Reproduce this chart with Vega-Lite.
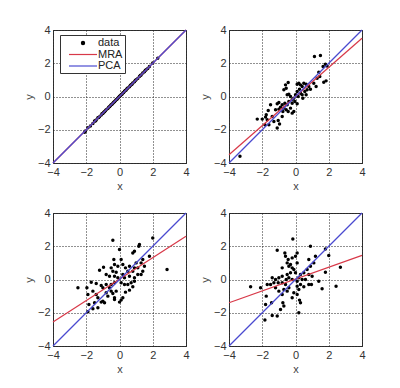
{
  "$schema": "https://vega.github.io/schema/vega-lite/v6.json",
  "padding": {"left": 22, "top": 23, "right": 5, "bottom": 5},
  "datasets": {
    "pts": [
      {"panel":1,"series":"data","x":-2.1,"y":-2.15},{"panel":1,"series":"data","x":-2.05,"y":-2.08},{"panel":1,"series":"data","x":-1.9,"y":-1.88},{"panel":1,"series":"data","x":-1.75,"y":-1.77},{"panel":1,"series":"data","x":-1.6,"y":-1.62},{"panel":1,"series":"data","x":-1.5,"y":-1.48},{"panel":1,"series":"data","x":-1.45,"y":-1.47},{"panel":1,"series":"data","x":-1.4,"y":-1.42},{"panel":1,"series":"data","x":-1.3,"y":-1.28},{"panel":1,"series":"data","x":-1.25,"y":-1.27},{"panel":1,"series":"data","x":-1.2,"y":-1.21},{"panel":1,"series":"data","x":-1.1,"y":-1.12},{"panel":1,"series":"data","x":-1.05,"y":-1.03},{"panel":1,"series":"data","x":-1.0,"y":-1.02},{"panel":1,"series":"data","x":-0.95,"y":-0.94},{"panel":1,"series":"data","x":-0.9,"y":-0.92},{"panel":1,"series":"data","x":-0.85,"y":-0.86},{"panel":1,"series":"data","x":-0.8,"y":-0.79},{"panel":1,"series":"data","x":-0.7,"y":-0.72},{"panel":1,"series":"data","x":-0.65,"y":-0.64},{"panel":1,"series":"data","x":-0.6,"y":-0.61},{"panel":1,"series":"data","x":-0.55,"y":-0.56},{"panel":1,"series":"data","x":-0.5,"y":-0.49},{"panel":1,"series":"data","x":-0.45,"y":-0.47},{"panel":1,"series":"data","x":-0.4,"y":-0.41},{"panel":1,"series":"data","x":-0.35,"y":-0.34},{"panel":1,"series":"data","x":-0.3,"y":-0.31},{"panel":1,"series":"data","x":-0.25,"y":-0.26},{"panel":1,"series":"data","x":-0.2,"y":-0.19},{"panel":1,"series":"data","x":-0.15,"y":-0.16},{"panel":1,"series":"data","x":-0.1,"y":-0.11},{"panel":1,"series":"data","x":-0.05,"y":-0.04},{"panel":1,"series":"data","x":0,"y":0.01},{"panel":1,"series":"data","x":0.05,"y":0.04},{"panel":1,"series":"data","x":0.1,"y":0.11},{"panel":1,"series":"data","x":0.15,"y":0.14},{"panel":1,"series":"data","x":0.2,"y":0.21},{"panel":1,"series":"data","x":0.25,"y":0.24},{"panel":1,"series":"data","x":0.3,"y":0.31},{"panel":1,"series":"data","x":0.35,"y":0.36},{"panel":1,"series":"data","x":0.4,"y":0.39},{"panel":1,"series":"data","x":0.45,"y":0.46},{"panel":1,"series":"data","x":0.5,"y":0.51},{"panel":1,"series":"data","x":0.6,"y":0.59},{"panel":1,"series":"data","x":0.65,"y":0.66},{"panel":1,"series":"data","x":0.7,"y":0.71},{"panel":1,"series":"data","x":0.75,"y":0.74},{"panel":1,"series":"data","x":0.8,"y":0.81},{"panel":1,"series":"data","x":0.9,"y":0.89},{"panel":1,"series":"data","x":0.95,"y":0.96},{"panel":1,"series":"data","x":1.0,"y":1.01},{"panel":1,"series":"data","x":1.1,"y":1.09},{"panel":1,"series":"data","x":1.2,"y":1.21},{"panel":1,"series":"data","x":1.25,"y":1.26},{"panel":1,"series":"data","x":1.3,"y":1.29},{"panel":1,"series":"data","x":1.4,"y":1.41},{"panel":1,"series":"data","x":1.5,"y":1.49},{"panel":1,"series":"data","x":1.55,"y":1.56},{"panel":1,"series":"data","x":1.6,"y":1.61},{"panel":1,"series":"data","x":1.7,"y":1.69},{"panel":1,"series":"data","x":1.8,"y":1.81},{"panel":1,"series":"data","x":2.0,"y":2.02},{"panel":1,"series":"data","x":2.3,"y":2.3},

      {"panel":2,"series":"data","x":-3.34,"y":-3.6},{"panel":2,"series":"data","x":1.14,"y":2.4},{"panel":2,"series":"data","x":1.5,"y":2.46},{"panel":2,"series":"data","x":1.8,"y":1.94},{"panel":2,"series":"data","x":1.66,"y":1.8},{"panel":2,"series":"data","x":1.9,"y":1.84},{"panel":2,"series":"data","x":1.84,"y":0.94},{"panel":2,"series":"data","x":1.7,"y":0.86},{"panel":2,"series":"data","x":1.4,"y":1.46},{"panel":2,"series":"data","x":1.46,"y":1.2},{"panel":2,"series":"data","x":1.3,"y":1.1},{"panel":2,"series":"data","x":1.24,"y":0.6},{"panel":2,"series":"data","x":1.1,"y":0.8},{"panel":2,"series":"data","x":-0.44,"y":0.84},{"panel":2,"series":"data","x":-0.6,"y":0.7},{"panel":2,"series":"data","x":-0.7,"y":0.4},{"panel":2,"series":"data","x":-0.56,"y":0.5},{"panel":2,"series":"data","x":0.2,"y":0.8},{"panel":2,"series":"data","x":0.3,"y":0.7},{"panel":2,"series":"data","x":0.1,"y":0.74},{"panel":2,"series":"data","x":0.4,"y":0.6},{"panel":2,"series":"data","x":0.5,"y":0.8},{"panel":2,"series":"data","x":0.64,"y":0.74},{"panel":2,"series":"data","x":0.8,"y":0.6},{"panel":2,"series":"data","x":0.9,"y":0.44},{"panel":2,"series":"data","x":0.7,"y":0.4},{"panel":2,"series":"data","x":0.56,"y":0.3},{"panel":2,"series":"data","x":0.24,"y":0.44},{"panel":2,"series":"data","x":0.1,"y":0.3},{"panel":2,"series":"data","x":0.3,"y":0.2},{"panel":2,"series":"data","x":0.4,"y":0.1},{"panel":2,"series":"data","x":0.64,"y":0.1},{"panel":2,"series":"data","x":0.44,"y":-0.1},{"panel":2,"series":"data","x":0.16,"y":0},{"panel":2,"series":"data","x":0,"y":0.1},{"panel":2,"series":"data","x":-0.1,"y":-0.1},{"panel":2,"series":"data","x":-0.2,"y":-0.2},{"panel":2,"series":"data","x":-0.3,"y":0},{"panel":2,"series":"data","x":-0.4,"y":0.14},{"panel":2,"series":"data","x":-0.5,"y":0.1},{"panel":2,"series":"data","x":-0.2,"y":-0.4},{"panel":2,"series":"data","x":-0.04,"y":-0.3},{"panel":2,"series":"data","x":0.1,"y":-0.44},{"panel":2,"series":"data","x":-0.4,"y":-0.3},{"panel":2,"series":"data","x":-0.5,"y":-0.5},{"panel":2,"series":"data","x":-0.64,"y":-0.4},{"panel":2,"series":"data","x":-0.8,"y":-0.5},{"panel":2,"series":"data","x":-1.0,"y":-0.36},{"panel":2,"series":"data","x":-1.1,"y":-0.44},{"panel":2,"series":"data","x":-0.9,"y":-0.64},{"panel":2,"series":"data","x":-0.7,"y":-0.7},{"panel":2,"series":"data","x":-0.56,"y":-0.8},{"panel":2,"series":"data","x":-0.3,"y":-0.7},{"panel":2,"series":"data","x":-0.44,"y":-0.9},{"panel":2,"series":"data","x":-0.2,"y":-1.0},{"panel":2,"series":"data","x":-0.1,"y":-0.9},{"panel":2,"series":"data","x":-0.76,"y":-0.9},{"panel":2,"series":"data","x":-1.0,"y":-0.76},{"panel":2,"series":"data","x":-1.2,"y":-0.8},{"panel":2,"series":"data","x":-1.5,"y":-0.5},{"panel":2,"series":"data","x":-1.64,"y":-0.84},{"panel":2,"series":"data","x":-1.76,"y":-1.1},{"panel":2,"series":"data","x":-1.8,"y":-1.24},{"panel":2,"series":"data","x":-2.0,"y":-1.36},{"panel":2,"series":"data","x":-2.3,"y":-1.36},{"panel":2,"series":"data","x":-1.7,"y":-1.4},{"panel":2,"series":"data","x":-1.84,"y":-1.7},{"panel":2,"series":"data","x":-1.6,"y":-1.7},{"panel":2,"series":"data","x":-1.3,"y":-1.5},{"panel":2,"series":"data","x":-1.04,"y":-1.44},{"panel":2,"series":"data","x":-0.96,"y":-1.66},{"panel":2,"series":"data","x":-1.1,"y":-1.9},{"panel":2,"series":"data","x":-1.4,"y":-1.2},{"panel":2,"series":"data","x":-0.8,"y":-1.2},

      {"panel":3,"series":"data","x":-2.5,"y":-0.5},{"panel":3,"series":"data","x":-0.4,"y":2.36},{"panel":3,"series":"data","x":2.0,"y":2.5},{"panel":3,"series":"data","x":1.2,"y":2.1},{"panel":3,"series":"data","x":1.16,"y":2.0},{"panel":3,"series":"data","x":2.86,"y":0.6},{"panel":3,"series":"data","x":1.4,"y":1.2},{"panel":3,"series":"data","x":0.9,"y":1.7},{"panel":3,"series":"data","x":0.8,"y":1.6},{"panel":3,"series":"data","x":1.8,"y":1.4},{"panel":3,"series":"data","x":1.5,"y":0.8},{"panel":3,"series":"data","x":1.3,"y":1.0},{"panel":3,"series":"data","x":1.0,"y":1.0},{"panel":3,"series":"data","x":1.1,"y":0.7},{"panel":3,"series":"data","x":1.4,"y":0.5},{"panel":3,"series":"data","x":1.3,"y":0.3},{"panel":3,"series":"data","x":0.9,"y":0.7},{"panel":3,"series":"data","x":0.8,"y":0.5},{"panel":3,"series":"data","x":0.6,"y":0.8},{"panel":3,"series":"data","x":0.5,"y":0.5},{"panel":3,"series":"data","x":0.36,"y":0.7},{"panel":3,"series":"data","x":0.2,"y":0.9},{"panel":3,"series":"data","x":0.1,"y":1.2},{"panel":3,"series":"data","x":0,"y":1.8},{"panel":3,"series":"data","x":-0.34,"y":1.2},{"panel":3,"series":"data","x":-0.3,"y":0.9},{"panel":3,"series":"data","x":-0.1,"y":0.8},{"panel":3,"series":"data","x":-0.5,"y":0.7},{"panel":3,"series":"data","x":-0.4,"y":0.5},{"panel":3,"series":"data","x":-0.2,"y":0.44},{"panel":3,"series":"data","x":-0.96,"y":0.74},{"panel":3,"series":"data","x":-1.2,"y":0.56},{"panel":3,"series":"data","x":-0.8,"y":0.3},{"panel":3,"series":"data","x":-0.6,"y":0.2},{"panel":3,"series":"data","x":-0.3,"y":0.2},{"panel":3,"series":"data","x":-0.1,"y":0.1},{"panel":3,"series":"data","x":0.2,"y":0.3},{"panel":3,"series":"data","x":0.3,"y":0.1},{"panel":3,"series":"data","x":0.6,"y":0.2},{"panel":3,"series":"data","x":0.9,"y":0.1},{"panel":3,"series":"data","x":1.1,"y":0.3},{"panel":3,"series":"data","x":0.1,"y":-0.2},{"panel":3,"series":"data","x":0.3,"y":-0.3},{"panel":3,"series":"data","x":0.5,"y":-0.3},{"panel":3,"series":"data","x":0.7,"y":-0.2},{"panel":3,"series":"data","x":0.9,"y":-0.1},{"panel":3,"series":"data","x":0.8,"y":-0.44},{"panel":3,"series":"data","x":0.6,"y":-0.64},{"panel":3,"series":"data","x":0.36,"y":-0.76},{"panel":3,"series":"data","x":0.1,"y":-1.24},{"panel":3,"series":"data","x":0,"y":-1.36},{"panel":3,"series":"data","x":0.2,"y":-1.1},{"panel":3,"series":"data","x":-0.3,"y":-0.2},{"panel":3,"series":"data","x":-0.5,"y":-0.3},{"panel":3,"series":"data","x":-0.6,"y":-0.5},{"panel":3,"series":"data","x":-0.8,"y":-0.3},{"panel":3,"series":"data","x":-1.0,"y":-0.5},{"panel":3,"series":"data","x":-1.1,"y":-0.36},{"panel":3,"series":"data","x":-1.4,"y":-0.24},{"panel":3,"series":"data","x":-1.7,"y":-0.16},{"panel":3,"series":"data","x":-1.96,"y":-0.5},{"panel":3,"series":"data","x":-1.9,"y":-0.9},{"panel":3,"series":"data","x":-1.6,"y":-0.7},{"panel":3,"series":"data","x":-1.4,"y":-0.9},{"panel":3,"series":"data","x":-1.3,"y":-1.1},{"panel":3,"series":"data","x":-1.5,"y":-1.4},{"panel":3,"series":"data","x":-1.84,"y":-1.5},{"panel":3,"series":"data","x":-1.9,"y":-1.94},{"panel":3,"series":"data","x":-1.6,"y":-1.76},{"panel":3,"series":"data","x":-1.3,"y":-1.7},{"panel":3,"series":"data","x":-1.1,"y":-1.36},{"panel":3,"series":"data","x":-1.0,"y":-1.3},{"panel":3,"series":"data","x":-0.9,"y":-1.4},{"panel":3,"series":"data","x":-0.7,"y":-1.0},{"panel":3,"series":"data","x":-0.4,"y":-0.84},{"panel":3,"series":"data","x":-0.3,"y":-1.1},{"panel":3,"series":"data","x":-0.3,"y":-1.2},{"panel":3,"series":"data","x":-0.2,"y":-0.7},{"panel":3,"series":"data","x":-0.5,"y":-0.7},{"panel":3,"series":"data","x":-0.8,"y":-0.8},

      {"panel":4,"series":"data","x":-2.7,"y":-0.44},{"panel":4,"series":"data","x":-0.16,"y":2.44},{"panel":4,"series":"data","x":0.9,"y":2.0},{"panel":4,"series":"data","x":1.8,"y":1.84},{"panel":4,"series":"data","x":2.0,"y":1.44},{"panel":4,"series":"data","x":2.7,"y":0.74},{"panel":4,"series":"data","x":2.44,"y":-0.4},{"panel":4,"series":"data","x":1.6,"y":-0.56},{"panel":4,"series":"data","x":1.4,"y":-0.1},{"panel":4,"series":"data","x":1.8,"y":0.44},{"panel":4,"series":"data","x":0.96,"y":-0.3},{"panel":4,"series":"data","x":1.0,"y":0.2},{"panel":4,"series":"data","x":0.8,"y":0.3},{"panel":4,"series":"data","x":0.9,"y":0.8},{"panel":4,"series":"data","x":0.8,"y":1.2},{"panel":4,"series":"data","x":1.1,"y":1.0},{"panel":4,"series":"data","x":1.2,"y":1.4},{"panel":4,"series":"data","x":0.7,"y":0.6},{"panel":4,"series":"data","x":0.5,"y":0.4},{"panel":4,"series":"data","x":0.3,"y":0.3},{"panel":4,"series":"data","x":0.2,"y":0.1},{"panel":4,"series":"data","x":0.4,"y":0},{"panel":4,"series":"data","x":0.6,"y":0},{"panel":4,"series":"data","x":0.8,"y":-0.3},{"panel":4,"series":"data","x":0.5,"y":-0.44},{"panel":4,"series":"data","x":0.3,"y":-0.3},{"panel":4,"series":"data","x":0.1,"y":-0.1},{"panel":4,"series":"data","x":0.1,"y":-0.4},{"panel":4,"series":"data","x":0.2,"y":-0.6},{"panel":4,"series":"data","x":0.1,"y":-0.9},{"panel":4,"series":"data","x":0.24,"y":-1.24},{"panel":4,"series":"data","x":0.3,"y":-1.4},{"panel":4,"series":"data","x":0.2,"y":-2.0},{"panel":4,"series":"data","x":-0.1,"y":-0.8},{"panel":4,"series":"data","x":-0.2,"y":-1.1},{"panel":4,"series":"data","x":0,"y":0.4},{"panel":4,"series":"data","x":-0.1,"y":0.6},{"panel":4,"series":"data","x":0.1,"y":1.0},{"panel":4,"series":"data","x":0,"y":1.4},{"panel":4,"series":"data","x":0.1,"y":1.6},{"panel":4,"series":"data","x":-0.2,"y":1.3},{"panel":4,"series":"data","x":-0.3,"y":0.9},{"panel":4,"series":"data","x":-0.4,"y":0.8},{"panel":4,"series":"data","x":-0.5,"y":1.0},{"panel":4,"series":"data","x":-0.6,"y":1.4},{"panel":4,"series":"data","x":-0.64,"y":1.6},{"panel":4,"series":"data","x":-0.44,"y":1.2},{"panel":4,"series":"data","x":-0.2,"y":0.7},{"panel":4,"series":"data","x":-0.3,"y":0.4},{"panel":4,"series":"data","x":-0.5,"y":0.3},{"panel":4,"series":"data","x":-0.4,"y":0.1},{"panel":4,"series":"data","x":-0.2,"y":0},{"panel":4,"series":"data","x":-0.56,"y":0},{"panel":4,"series":"data","x":-0.8,"y":0.2},{"panel":4,"series":"data","x":-1.0,"y":0.1},{"panel":4,"series":"data","x":-1.2,"y":0},{"panel":4,"series":"data","x":-1.3,"y":-0.2},{"panel":4,"series":"data","x":-1.5,"y":-0.3},{"panel":4,"series":"data","x":-1.7,"y":-0.3},{"panel":4,"series":"data","x":-1.4,"y":0.1},{"panel":4,"series":"data","x":-1.04,"y":-0.2},{"panel":4,"series":"data","x":-0.8,"y":-0.2},{"panel":4,"series":"data","x":-0.6,"y":-0.3},{"panel":4,"series":"data","x":-0.4,"y":-0.5},{"panel":4,"series":"data","x":-0.5,"y":-0.7},{"panel":4,"series":"data","x":-0.7,"y":-0.6},{"panel":4,"series":"data","x":-0.8,"y":-0.9},{"panel":4,"series":"data","x":-0.76,"y":-1.4},{"panel":4,"series":"data","x":-0.7,"y":-1.6},{"panel":4,"series":"data","x":-0.9,"y":-1.8},{"panel":4,"series":"data","x":-1.1,"y":-2.2},{"panel":4,"series":"data","x":-1.4,"y":-2.16},{"panel":4,"series":"data","x":-1.84,"y":-2.44},{"panel":4,"series":"data","x":-1.8,"y":-1.5},{"panel":4,"series":"data","x":-1.44,"y":-1.4},{"panel":4,"series":"data","x":-1.76,"y":-1.0},{"panel":4,"series":"data","x":-2.1,"y":-0.5},{"panel":4,"series":"data","x":-1.2,"y":-0.5},{"panel":4,"series":"data","x":-1.0,"y":-0.7},{"panel":4,"series":"data","x":-0.8,"y":0.7},{"panel":4,"series":"data","x":-1.1,"y":1.76},

      {"panel":1,"series":"MRA","x":-4,"y":-4},{"panel":1,"series":"MRA","x":4,"y":4},
      {"panel":1,"series":"PCA","x":-4,"y":-4},{"panel":1,"series":"PCA","x":4,"y":4},
      {"panel":2,"series":"MRA","x":-4,"y":-3.5},{"panel":2,"series":"MRA","x":4,"y":3.5},
      {"panel":2,"series":"PCA","x":-4,"y":-4},{"panel":2,"series":"PCA","x":4,"y":4},
      {"panel":3,"series":"MRA","x":-4,"y":-2.55},{"panel":3,"series":"MRA","x":4,"y":2.6},
      {"panel":3,"series":"PCA","x":-4,"y":-4},{"panel":3,"series":"PCA","x":4,"y":4},
      {"panel":4,"series":"MRA","x":-4,"y":-1.4},{"panel":4,"series":"MRA","x":4,"y":1.45},
      {"panel":4,"series":"PCA","x":-4,"y":-4},{"panel":4,"series":"PCA","x":4,"y":4}
    ]
  },
  "data": {"name": "pts"},
  "columns": 2,
  "spacing": {"row": 14, "column": 8},
  "concat": [
    {"transform": [{"filter": "datum.panel == 1"}], "width": 133, "height": 133,
     "encoding": {
       "x": {"field": "x", "type": "quantitative", "title": "x", "scale": {"domain": [-4, 4], "nice": false}},
       "y": {"field": "y", "type": "quantitative", "title": "y", "scale": {"domain": [-4, 4], "nice": false}},
       "color": {"field": "series", "type": "nominal",
         "scale": {"domain": ["data", "MRA", "PCA"], "range": ["#000000", "#d83848", "#4a4ad0"]},
         "legend": {"encode": {"symbols": {"update": {
            "shape": {"signal": "datum.value === 'data' ? 'circle' : 'M-2.8,0H2.8'"},
            "size": {"signal": "datum.value === 'data' ? 10 : 100"},
            "stroke": {"signal": "datum.value === 'data' ? '#000000' : datum.value === 'MRA' ? '#d83848' : '#4a4ad0'"},
            "fill": {"signal": "datum.value === 'data' ? '#000000' : 'transparent'"},
            "strokeWidth": {"value": 1.2}, "opacity": {"value": 1}}}}}}},
     "layer": [
       {"transform": [{"filter": "datum.series == 'data'"}], "mark": {"type": "point", "filled": true, "size": 12, "opacity": 1}},
       {"transform": [{"filter": "datum.series != 'data'"}], "mark": {"type": "line", "strokeWidth": 1.2}}
     ]},
    {"transform": [{"filter": "datum.panel == 2"}], "width": 133, "height": 133,
     "encoding": {
       "x": {"field": "x", "type": "quantitative", "title": "x", "scale": {"domain": [-4, 4], "nice": false}},
       "y": {"field": "y", "type": "quantitative", "title": "y", "scale": {"domain": [-4, 4], "nice": false}},
       "color": {"field": "series", "type": "nominal",
         "scale": {"domain": ["data", "MRA", "PCA"], "range": ["#000000", "#d83848", "#4a4ad0"]},
         "legend": {"encode": {"symbols": {"update": {
            "shape": {"signal": "datum.value === 'data' ? 'circle' : 'M-2.8,0H2.8'"},
            "size": {"signal": "datum.value === 'data' ? 10 : 100"},
            "stroke": {"signal": "datum.value === 'data' ? '#000000' : datum.value === 'MRA' ? '#d83848' : '#4a4ad0'"},
            "fill": {"signal": "datum.value === 'data' ? '#000000' : 'transparent'"},
            "strokeWidth": {"value": 1.2}, "opacity": {"value": 1}}}}}}},
     "layer": [
       {"transform": [{"filter": "datum.series == 'data'"}], "mark": {"type": "point", "filled": true, "size": 12, "opacity": 1}},
       {"transform": [{"filter": "datum.series != 'data'"}], "mark": {"type": "line", "strokeWidth": 1.2}}
     ]},
    {"transform": [{"filter": "datum.panel == 3"}], "width": 133, "height": 133,
     "encoding": {
       "x": {"field": "x", "type": "quantitative", "title": "x", "scale": {"domain": [-4, 4], "nice": false}},
       "y": {"field": "y", "type": "quantitative", "title": "y", "scale": {"domain": [-4, 4], "nice": false}},
       "color": {"field": "series", "type": "nominal",
         "scale": {"domain": ["data", "MRA", "PCA"], "range": ["#000000", "#d83848", "#4a4ad0"]},
         "legend": {"encode": {"symbols": {"update": {
            "shape": {"signal": "datum.value === 'data' ? 'circle' : 'M-2.8,0H2.8'"},
            "size": {"signal": "datum.value === 'data' ? 10 : 100"},
            "stroke": {"signal": "datum.value === 'data' ? '#000000' : datum.value === 'MRA' ? '#d83848' : '#4a4ad0'"},
            "fill": {"signal": "datum.value === 'data' ? '#000000' : 'transparent'"},
            "strokeWidth": {"value": 1.2}, "opacity": {"value": 1}}}}}}},
     "layer": [
       {"transform": [{"filter": "datum.series == 'data'"}], "mark": {"type": "point", "filled": true, "size": 12, "opacity": 1}},
       {"transform": [{"filter": "datum.series != 'data'"}], "mark": {"type": "line", "strokeWidth": 1.2}}
     ]},
    {"transform": [{"filter": "datum.panel == 4"}], "width": 133, "height": 133,
     "encoding": {
       "x": {"field": "x", "type": "quantitative", "title": "x", "scale": {"domain": [-4, 4], "nice": false}},
       "y": {"field": "y", "type": "quantitative", "title": "y", "scale": {"domain": [-4, 4], "nice": false}},
       "color": {"field": "series", "type": "nominal",
         "scale": {"domain": ["data", "MRA", "PCA"], "range": ["#000000", "#d83848", "#4a4ad0"]},
         "legend": {"encode": {"symbols": {"update": {
            "shape": {"signal": "datum.value === 'data' ? 'circle' : 'M-2.8,0H2.8'"},
            "size": {"signal": "datum.value === 'data' ? 10 : 100"},
            "stroke": {"signal": "datum.value === 'data' ? '#000000' : datum.value === 'MRA' ? '#d83848' : '#4a4ad0'"},
            "fill": {"signal": "datum.value === 'data' ? '#000000' : 'transparent'"},
            "strokeWidth": {"value": 1.2}, "opacity": {"value": 1}}}}}}},
     "layer": [
       {"transform": [{"filter": "datum.series == 'data'"}], "mark": {"type": "point", "filled": true, "size": 12, "opacity": 1}},
       {"transform": [{"filter": "datum.series != 'data'"}], "mark": {"type": "line", "strokeWidth": 1.2}}
     ]}
  ],
  "resolve": {"scale": {"color": "shared"}, "legend": {"color": "shared"}},
  "config": {
    "font": "Liberation Sans",
    "view": {"stroke": "#333", "strokeWidth": 1},
    "axis": {"domain": false, "ticks": false, "grid": true, "gridColor": "#222", "gridDash": [1, 2], "gridOpacity": 1,
      "values": [-4, -2, 0, 2, 4],
      "labelFont": "Liberation Sans", "titleFont": "Liberation Sans",
      "labelFontSize": 11, "labelColor": "#333", "labelFlush": false, "labelOverlap": false, "labelPadding": 3,
      "titleFontSize": 11, "titleFontWeight": "normal", "titleColor": "#444", "titlePadding": 3},
    "legend": {
      "labelFont": "Liberation Sans",
      "title": null, "orient": "none", "legendX": 7, "legendY": 5,
      "fillColor": "white", "strokeColor": "#333", "padding": 2,
      "labelFontSize": 11, "labelColor": "#222", "rowPadding": 0.5,
      "symbolSize": 100, "symbolOffset": 15, "labelOffset": 9, "symbolStrokeWidth": 1.2
    }
  }
}
